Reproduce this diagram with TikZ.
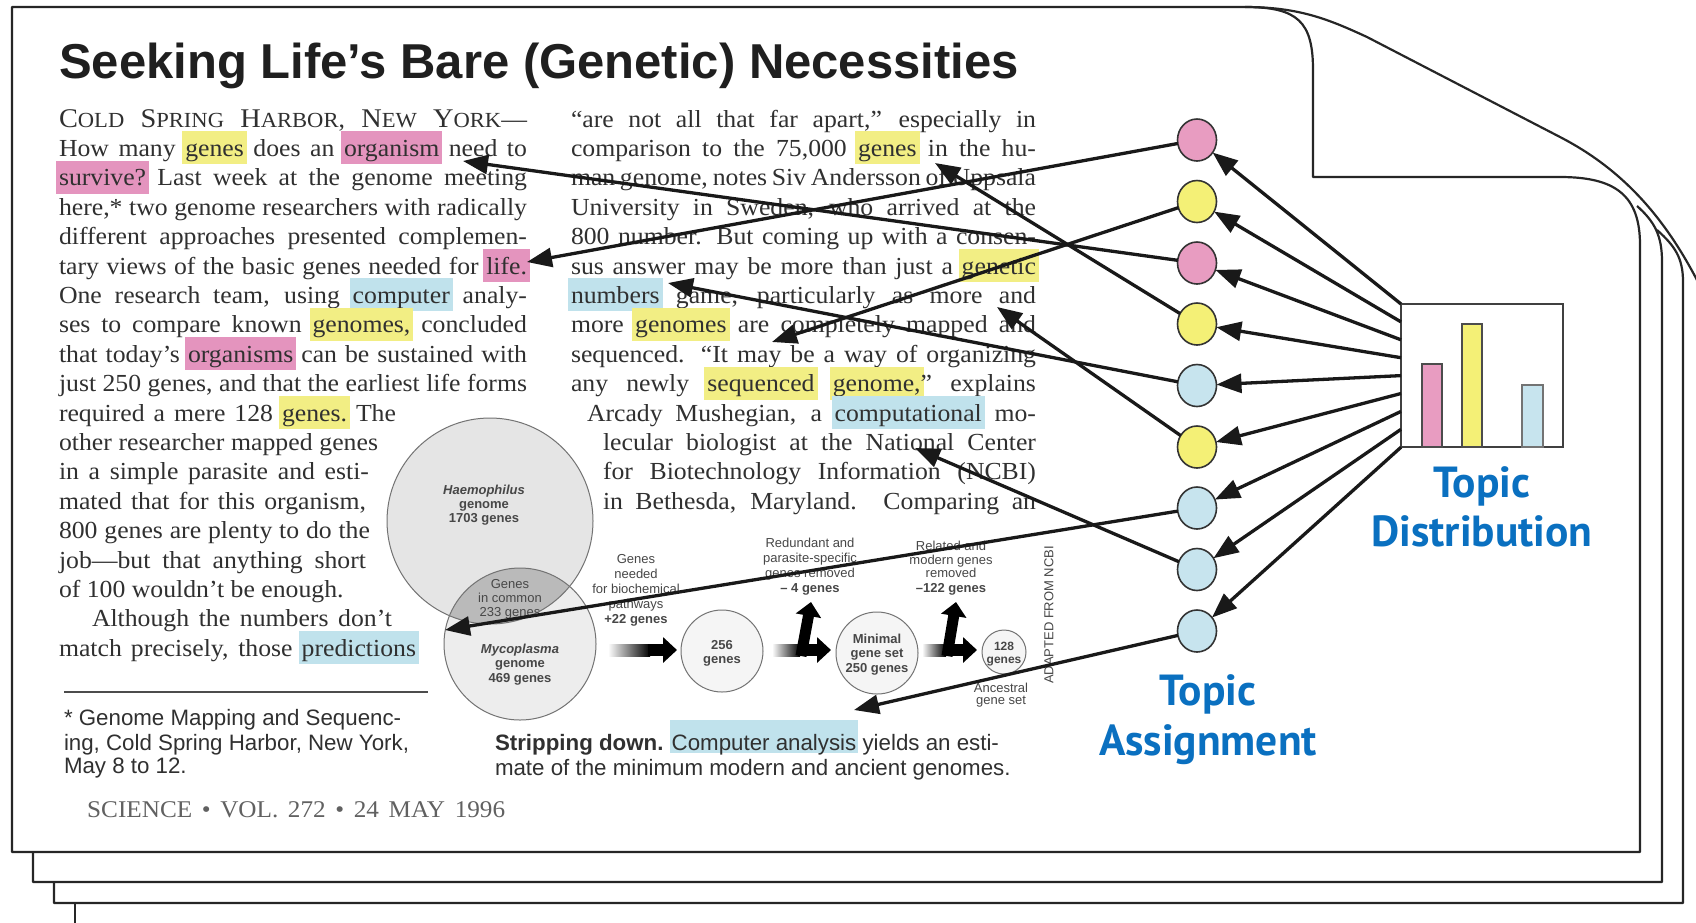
\documentclass[tikz,border=0pt]{standalone}
\usepackage{fontspec}
\setmainfont{Liberation Serif}[FakeStretch=1.05]
\newfontfamily\sansf{Liberation Sans}
\newfontfamily\labf{PT Sans}
\usetikzlibrary{arrows.meta,shapes.geometric,calc}
\definecolor{hpink}{RGB}{228,148,190}
\definecolor{hyel}{RGB}{242,238,132}
\definecolor{hblue}{RGB}{192,226,236}
\definecolor{cpink}{RGB}{232,156,193}
\definecolor{cyel}{RGB}{244,240,118}
\definecolor{cblue}{RGB}{199,228,238}
\definecolor{topicblue}{RGB}{10,112,192}
\definecolor{ink}{RGB}{48,48,48}
\definecolor{hlink}{RGB}{105,105,105}
\newsavebox\hlbx
\newcommand\hl[2]{\sbox\hlbx{#2}\rlap{\kern-3pt\textcolor{#1}{\rule[-8pt]{\dimexpr\wd\hlbx+6pt\relax}{33pt}}}\textcolor{hlink}{\usebox\hlbx}}
\newcommand\hlc[2]{\sbox\hlbx{#2}\rlap{\kern-2pt\textcolor{#1}{\rule[-3pt]{\dimexpr\wd\hlbx+4pt\relax}{33pt}}}\textcolor{hlink}{\usebox\hlbx}}
\newcommand\bodyfont{\fontsize{24.5}{29.4}\selectfont}
\newcommand\bigc[1]{{\fontsize{27}{29}\selectfont #1}}
\newcommand\smc[1]{{\fontsize{21.5}{22}\selectfont #1}}
\newcommand\figfont{\sansf\fontsize{13}{15}\selectfont}
\newcommand\capfont{\sansf\fontsize{22.3}{25}\selectfont}
\newcommand\labfont{\labf\bfseries\fontsize{43.5}{49}\selectfont}
\begin{document}
\begin{tikzpicture}[x=1pt,y=-1pt,
  pageline/.style={draw=black!85, line width=2.2pt, line join=round},
  tl/.style={inner sep=0pt, outer sep=0pt, anchor=base west, text=ink, font=\bodyfont},
  ft/.style={inner sep=0pt, outer sep=0pt, anchor=base, text=black!72, font=\figfont},
  ftb/.style={ft, font=\figfont\bfseries},
  captext/.style={inner sep=0pt, outer sep=0pt, anchor=base west, text=ink, font=\capfont},
  conn/.style={draw=black!90, line width=3.3pt, -{Triangle[length=25pt,width=19pt]}},
  topic/.style={ellipse, draw=black!80, line width=1.6pt, minimum width=39pt, minimum height=42pt, inner sep=0pt, outer sep=0pt},
  figcirc/.style={draw=black!55, line width=1pt, fill=black!4},
  fat/.style={draw=black, line width=12pt, -{Triangle[length=14pt,width=25pt]}},
  lab/.style={inner sep=0pt, outer sep=0pt, anchor=base, text=topicblue, font=\labfont}]
\useasboundingbox (0,0) rectangle (1696,922);
% ---------- stacked pages ----------
\draw[pageline] (75,903) -- (75,930);
\draw[pageline] (1657,230) .. controls (1675,246) and (1683,258) .. (1683,282) -- (1683,903) -- (54,903) -- (54,882);
\draw[pageline] (1637,206) .. controls (1655,222) and (1662,236) .. (1662,262) -- (1662,882) -- (33,882) -- (33,852);
\path[pageline, fill=white] (12,852) -- (12,7) -- (1245,7) .. controls (1298,7) and (1313,22) .. (1313,70) -- (1313,177) -- (1560,177) .. controls (1615,177) and (1640,195) .. (1640,245) -- (1640,852) -- cycle;
\draw[pageline] (1245,7) .. controls (1300,7) and (1330,20) .. (1367,37) -- (1560,137) .. controls (1620,168) and (1665,215) .. (1702,290);
% ---------- title ----------
\node[inner sep=0pt, anchor=base west, text=black!88, font=\sansf\bfseries\fontsize{49}{55}\selectfont] (title) at (59,78) {Seeking Life’s Bare (Genetic) Necessities};
% ---------- left column ----------
\node[tl] (L1) at (59,127) {\makebox[468pt][s]{\bigc{C}\smc{OLD} \bigc{S}\smc{PRING} \bigc{H}\smc{ARBOR}, \bigc{N}\smc{EW} \bigc{Y}\smc{ORK}—}};
\node[tl] (L2) at (59,156.4) {\makebox[468pt][s]{How many \hl{hyel}{genes} does an \hl{hpink}{organism} need to}};
\node[tl] (L3) at (59,185.8) {\makebox[468pt][s]{\hl{hpink}{survive?} Last week at the genome meeting}};
\node[tl] (L4) at (59,215.2) {\makebox[468pt][s]{here,* two genome researchers with radically}};
\node[tl] (L5) at (59,244.6) {\makebox[468pt][s]{different approaches presented complemen-}};
\node[tl] (L6) at (59,274) {\makebox[468pt][s]{tary views of the basic genes needed for \hl{hpink}{life.}}};
\node[tl] (L7) at (59,303.4) {\makebox[468pt][s]{One research team, using \hl{hblue}{computer} analy-}};
\node[tl] (L8) at (59,332.8) {\makebox[468pt][s]{ses to compare known \hl{hyel}{genomes,} concluded}};
\node[tl] (L9) at (59,362.2) {\makebox[468pt][s]{that today’s \hl{hpink}{organisms} can be sustained with}};
\node[tl] (L10) at (59,391.6) {\makebox[468pt][s]{just 250 genes, and that the earliest life forms}};
\node[tl] (L11) at (59,421) {\makebox[337pt][s]{required a mere 128 \hl{hyel}{genes.} The}};
\node[tl] (L12) at (59,450.4) {\makebox[319pt][s]{other researcher mapped genes}};
\node[tl] (L13) at (59,479.8) {\makebox[310pt][s]{in a simple parasite and esti-}};
\node[tl] (L14) at (59,509.2) {\makebox[307pt][s]{mated that for this organism,}};
\node[tl] (L15) at (59,538.6) {\makebox[311pt][s]{800 genes are plenty to do the}};
\node[tl] (L16) at (59,568) {\makebox[307pt][s]{job—but that anything short}};
\node[tl] (L17) at (59,597.4) {of 100 wouldn’t be enough.};
\node[tl] (L18) at (92,626.8) {\makebox[300pt][s]{Although the numbers don’t}};
\node[tl] (L19) at (59,656.2) {\makebox[357pt][s]{match precisely, those \hl{hblue}{predictions}}};
% ---------- right column ----------
\node[tl] (R1) at (571,127) {\makebox[465pt][s]{“are not all that far apart,” especially in}};
\node[tl] (R2) at (571,156.4) {\makebox[465pt][s]{comparison to the 75,000 \hl{hyel}{genes} in the hu-}};
\node[tl] (R3) at (571,185.8) {\makebox[465pt][s]{man genome, notes Siv Andersson of Uppsala}};
\node[tl] (R4) at (571,215.2) {\makebox[465pt][s]{University in Sweden, who arrived at the}};
\node[tl] (R5) at (571,244.6) {\makebox[465pt][s]{800 number. But coming up with a consen-}};
\node[tl] (R6) at (571,274) {\makebox[465pt][s]{sus answer may be more than just a \hl{hyel}{genetic}}};
\node[tl] (R7) at (571,303.4) {\makebox[465pt][s]{\hl{hblue}{numbers} game, particularly as more and}};
\node[tl] (R8) at (571,332.8) {\makebox[465pt][s]{more \hl{hyel}{genomes} are completely mapped and}};
\node[tl] (R9) at (571,362.2) {\makebox[465pt][s]{sequenced. “It may be a way of organizing}};
\node[tl] (R10) at (571,391.6) {\makebox[465pt][s]{any newly \hl{hyel}{sequenced} \hl{hyel}{genome,}” explains}};
\node[tl] (R11) at (587,421) {\makebox[449pt][s]{Arcady Mushegian, a \hl{hblue}{computational} mo-}};
\node[tl] (R12) at (603,450.4) {\makebox[433pt][s]{lecular biologist at the National Center}};
\node[tl] (R13) at (603,479.8) {\makebox[433pt][s]{for Biotechnology Information (NCBI)}};
\node[tl] (R14) at (603,509.2) {\makebox[433pt][s]{in Bethesda, Maryland. Comparing an}};
% ---------- footnote, caption, footer ----------
\draw[draw=black!70, line width=1.5pt] (64,692) -- (428,692);
\node[captext] (fn1) at (64,725) {* Genome Mapping and Sequenc-};
\node[captext] (fn2) at (64,750) {ing, Cold Spring Harbor, New York,};
\node[captext] (fn3) at (64,773) {May 8 to 12.};
\node[captext] (cap1) at (495,750) {\textbf{Stripping down.} \hlc{hblue}{Computer analysis} yields an esti-};
\node[captext] (cap2) at (495,775) {mate of the minimum modern and ancient genomes.};
\node[inner sep=0pt, anchor=base west, text=black!62, font=\fontsize{24}{26}\selectfont] (foot) at (87,817) {\makebox[418pt][s]{SCIENCE • VOL. 272 • 24 MAY 1996}};
% ---------- Venn figure ----------
\fill[black!10] (490,521) circle[radius=103];
\fill[black!7] (520,644) circle[radius=76];
\begin{scope}
  \clip (490,521) circle[radius=103];
  \fill[black!27] (520,644) circle[radius=76];
\end{scope}
\draw[draw=black!55, line width=1pt] (490,521) circle[radius=103];
\draw[draw=black!55, line width=1pt] (520,644) circle[radius=76];
\node[ftb] (h1) at (484,494) {\itshape Haemophilus};
\node[ftb] (h2) at (484,508) {genome};
\node[ftb] (h3) at (484,522) {1703 genes};
\node[ft] (g1) at (510,588) {Genes};
\node[ft] (g2) at (510,602) {in common};
\node[ft] (g3) at (510,616) {233 genes};
\node[ftb] (m1) at (520,653) {\itshape Mycoplasma};
\node[ftb] (m2) at (520,667) {genome};
\node[ftb] (m3) at (520,682) {469 genes};
% ---------- flow figure ----------
\node[ft] (n1) at (636,563) {Genes};
\node[ft] (n2) at (636,578) {needed};
\node[ft] (n3) at (636,593) {for biochemical};
\node[ft] (n4) at (636,608) {pathways};
\node[ftb] (n5) at (636,623) {+22 genes};
\node[ft] (r1) at (810,547) {Redundant and};
\node[ft] (r2) at (810,562) {parasite-specific};
\node[ft] (r3) at (810,577) {genes removed};
\node[ftb] (r4) at (810,592) {– 4 genes};
\node[ft] (q1) at (951,550) {Related and};
\node[ft] (q2) at (951,564) {modern genes};
\node[ft] (q3) at (951,577) {removed};
\node[ftb] (q4) at (951,592) {–122 genes};
\draw[figcirc] (722,651) circle[radius=41];
\node[ftb] (s1) at (722,649) {256};
\node[ftb] (s2) at (722,663) {genes};
\draw[figcirc] (877,653) circle[radius=41];
\node[ftb] (u1) at (877,643) {Minimal};
\node[ftb] (u2) at (877,657) {gene set};
\node[ftb] (u3) at (877,672) {250 genes};
\draw[figcirc] (1004,652) circle[radius=22];
\node[ftb, font=\sansf\bfseries\fontsize{12}{13}\selectfont] (v1) at (1004,650) {128};
\node[ftb, font=\sansf\bfseries\fontsize{12}{13}\selectfont] (v2) at (1004,663) {genes};
\node[ft] (a1) at (1001,692) {Ancestral};
\node[ft] (a2) at (1001,704) {gene set};
\node[ft, anchor=center, rotate=90] (ncbi) at (1049,615) {ADAPTED FROM NCBI};
\shade[left color=white, right color=black] (608,644) rectangle (650,656);
\draw[fat] (648,650) -- (677,650);
\shade[left color=white, right color=black] (772,644) rectangle (800,656);
\draw[fat] (798,650) -- (831,650);
\draw[fat, line width=11pt] (801,656) -- (811,602);
\shade[left color=white, right color=black] (922,644) rectangle (946,656);
\draw[fat] (944,650) -- (977,650);
\draw[fat, line width=11pt] (947,656) -- (956,602);
% ---------- topic distribution ----------
\node[draw=black!75, line width=2pt, minimum width=162pt, minimum height=143pt, inner sep=0pt, outer sep=0pt] (dist) at (1482,375.5) {};
\filldraw[fill=cpink, draw=black!70, line width=1.5pt] (1422,364) rectangle (1442,447);
\filldraw[fill=cyel, draw=black!70, line width=1.5pt] (1462,324) rectangle (1482,447);
\filldraw[fill=cblue, draw=black!55, line width=1.5pt] (1522,385) rectangle (1543,447);
% ---------- topic assignment circles ----------
\node[topic, fill=cpink] (c1) at (1197,140) {};
\node[topic, fill=cyel]  (c2) at (1197,201.5) {};
\node[topic, fill=cpink] (c3) at (1197,263) {};
\node[topic, fill=cyel]  (c4) at (1197,324) {};
\node[topic, fill=cblue] (c5) at (1197,385.5) {};
\node[topic, fill=cyel]  (c6) at (1197,447) {};
\node[topic, fill=cblue] (c7) at (1197,508) {};
\node[topic, fill=cblue] (c8) at (1197,569.5) {};
\node[topic, fill=cblue] (c9) at (1197,631) {};
\foreach \k in {1,...,9} {
  \draw[conn] ($(dist.north west)+(0,{17.9*(\k-1)})$) -- (c\k);
}
% ---------- word targets ----------
\coordinate (t1) at (527,262);
\coordinate (t2) at (772,342);
\coordinate (t3) at (463,161);
\coordinate (t4) at (935,163);
\coordinate (t5) at (668,283);
\coordinate (t6) at (997,307);
\coordinate (t7) at (445,630);
\coordinate (t8) at (915,448);
\coordinate (t9) at (854,710);
\foreach \k in {1,...,9} {
  \draw[conn] (c\k) -- (t\k);
}
% ---------- labels ----------
\node[lab] (td1) at (1482,497) {Topic};
\node[lab] (td2) at (1482,546) {Distribution};
\node[lab] (ta1) at (1208,705) {Topic};
\node[lab] (ta2) at (1208,755) {Assignment};
\end{tikzpicture}
\end{document}
